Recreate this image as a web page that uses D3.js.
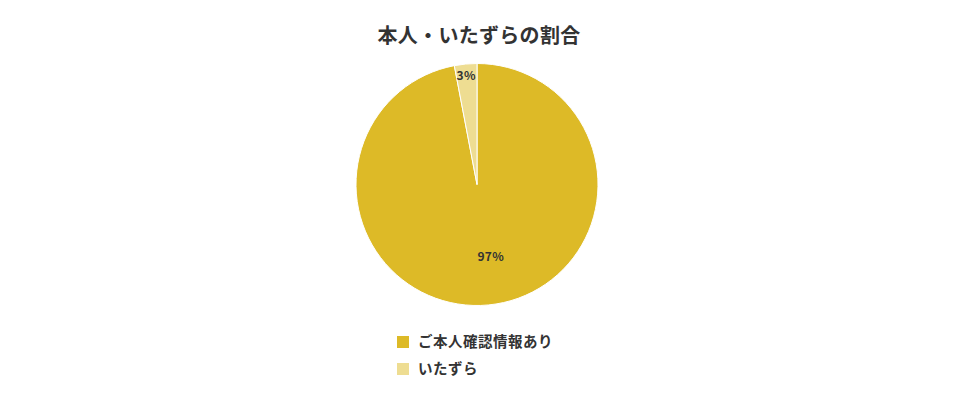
<!DOCTYPE html>
<html>
<head>
<meta charset="utf-8">
<script src="https://cdn.jsdelivr.net/npm/d3@7"></script>
<style>
  body { margin: 0; background: #fff; }
  text { font-family: "Noto Sans CJK JP", "Noto Sans", sans-serif; }
</style>
</head>
<body>
<div class="chart"></div>
<script>
var title = '本人・いたずらの割合';
var categories = ['ご本人確認情報あり', 'いたずら'];
var values = [97, 3];
var colors = ['#ddba27', '#eedd92'];

var width = 960, height = 400,
    cx = 477, cy = 184.5, radius = 121;

var svg = d3.select('.chart').append('svg')
    .attr('width', width)
    .attr('height', height);

svg.append('text')
    .attr('x', 479)
    .attr('y', 43)
    .attr('text-anchor', 'middle')
    .attr('font-size', 20)
    .attr('font-weight', 700)
    .attr('letter-spacing', 0.3)
    .attr('fill', '#333')
    .text(title);

var pie = d3.pie().sort(null).value(function(d){ return d; });
var arcs = pie(values);
var arc = d3.arc().innerRadius(0).outerRadius(radius);

var g = svg.append('g')
    .attr('transform', 'translate(' + cx + ',' + cy + ')');

g.selectAll('path')
    .data(arcs)
  .enter().append('path')
    .attr('d', arc)
    .attr('fill', function(d, i){ return colors[i]; })
    .attr('stroke', '#fff')
    .attr('stroke-width', 1);

var total = d3.sum(values);
g.selectAll('.label')
    .data(arcs)
  .enter().append('text')
    .attr('class', 'label')
    .attr('transform', function(d){
      var share = d.value / total;
      var r = share < 0.05 ? radius * 0.9 : radius * 0.6;
      var c = d3.arc().innerRadius(r).outerRadius(r).centroid(d);
      // big slice label sits a little right of its centroid in the original
      var shift = share < 0.05 ? -0.5 : 7;
      return 'translate(' + (c[0] + shift) + ',' + c[1] + ')';
    })
    .attr('text-anchor', 'middle')
    .attr('dy', '0.35em')
    .attr('font-size', 12)
    .attr('font-weight', 700)
    .attr('letter-spacing', 0.4)
    .attr('fill', '#333')
    .text(function(d){ return d.value + '%'; });

var legend = svg.selectAll('.legend')
    .data(categories)
  .enter().append('g')
    .attr('class', 'legend')
    .attr('transform', function(d, i){ return 'translate(397,' + (342 + i * 27) + ')'; });

legend.append('rect')
    .attr('x', 0)
    .attr('y', -6)
    .attr('width', 12)
    .attr('height', 12)
    .attr('fill', function(d, i){ return colors[i]; });

legend.append('text')
    .attr('x', 21)
    .attr('dy', '0.35em')
    .attr('font-size', 14.5)
    .attr('font-weight', 700)
    .attr('letter-spacing', 0.5)
    .attr('fill', '#333')
    .text(function(d){ return d; });
</script>
</body>
</html>
